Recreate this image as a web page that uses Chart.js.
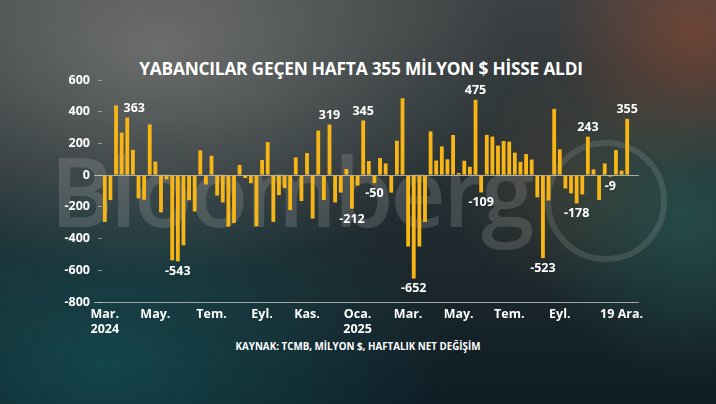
<!DOCTYPE html>
<html>
<head>
<meta charset="utf-8">
<script src="https://cdn.jsdelivr.net/npm/chart.js@4.4.1/dist/chart.umd.min.js"></script>
<style>
    html, body {
        margin: 0;
        padding: 0;
    }
    #wrap {
        position: relative;
        width: 716px;
        height: 404px;
        overflow: hidden;
        font-family: 'Open Sans', sans-serif;
        background:
            radial-gradient(ellipse at 22% 12%, rgba(150, 150, 145, 0.55), transparent 45%),
            radial-gradient(ellipse at 15% 90%, rgba(20, 85, 90, 0.7), transparent 40%),
            radial-gradient(circle at 97% 8%, rgba(190, 80, 40, 0.4), transparent 18%),
            radial-gradient(circle at 96% 55%, rgba(40, 110, 100, 0.45), transparent 22%),
            radial-gradient(circle at 80% 45%, rgba(160, 110, 60, 0.18), transparent 20%),
            linear-gradient(180deg, #3b4042 0%, #252f32 45%, #0e1c24 100%);
    }
    #watermark {
        position: absolute;
        left: 50px;
        top: 124px;
        font-size: 96px;
        font-weight: 600;
        letter-spacing: -3px;
        color: rgba(210, 210, 210, 0.18);
        white-space: nowrap;
    }
    #ring {
        position: absolute;
        left: 545px;
        top: 140px;
        width: 110px;
        height: 110px;
        border-radius: 50%;
        border: 6px solid rgba(200, 200, 200, 0.16);
    }
    #title {
        position: absolute;
        top: 57px;
        left: 3px;
        width: 716px;
        text-align: center;
        color: #fff;
        font-weight: 700;
        font-size: 17.3px;
        letter-spacing: -0.2px;
    }
    #source {
        position: absolute;
        top: 340px;
        width: 716px;
        text-align: center;
        color: #fff;
        font-weight: 700;
        font-size: 9.8px;
    }
    #chart {
        position: absolute;
        left: 0;
        top: 0;
    }
</style>
</head>
<body>
<div id="wrap">
    <div id="watermark">Bloomberg</div>
    <div id="ring"></div>
    <div id="title">YABANCILAR GEÇEN HAFTA 355 MİLYON $ HİSSE ALDI</div>
    <div id="source">KAYNAK: TCMB, MİLYON $, HAFTALIK NET DEĞİŞİM</div>
    <canvas id="chart" width="716" height="404"></canvas>
</div>
<script>
// haftalık net değişim, milyon $ (8 Mar 2024 - 19 Ara 2025)
const weeklyFlows = [
    -295, -157, 440, 268, 363, 160, -146, -155, 320, 85,
    -235, -27, -537, -543, -442, -158, -229, 156, -59, 122,
    -129, -172, -325, -302, 64, -18, -51, -322, 96, 208,
    -295, -126, -82, -220, 112, -163, 139, -274, 281, -157,
    319, -172, -110, 39, -212, -66, 345, 89, -50, 108,
    74, -110, 217, 485, -450, -652, -450, -295, 276, 92,
    181, 100, 253, 13, 91, 53, 475, -109, 254, 243,
    186, 215, 211, 142, 84, 133, 98, -140, -523, -160,
    418, 162, -84, -115, -178, -122, 243, 36, -157, 74,
    -9, 158, 28, 355
];

// x ekseni etiketleri (hafta sırası -> etiket)
const monthTicks = [
    [0, ['Mar.', '2024']],
    [9, 'May.'],
    [19, 'Tem.'],
    [28, 'Eyl.'],
    [36, 'Kas.'],
    [45, ['Oca.', '2025']],
    [54, 'Mar.'],
    [63, 'May.'],
    [72, 'Tem.'],
    [81, 'Eyl.'],
    [92, '19 Ara.']
];

// üzerinde değer yazan haftalar
const labelledWeeks = [4, 13, 40, 44, 46, 48, 55, 66, 67, 78, 84, 86, 90, 93];

const yTicks = [600, 400, 200, 0, -200, -400, -600, -800];

const labels = weeklyFlows.map(() => '');
monthTicks.forEach(([i, text]) => { labels[i] = text; });

const barColor = '#f8b616';
const lineColor = 'rgba(205, 205, 205, 0.75)';

// sıfır çizgisi, alt eksen çizgisi ve değer etiketleri
const annotate = {
    id: 'annotate',
    beforeDatasetsDraw(chart) {
        const { ctx, chartArea, scales } = chart;
        ctx.save();
        ctx.strokeStyle = lineColor;
        ctx.lineWidth = 1;
        [0, yTicks[yTicks.length - 1]].forEach(v => {
            const y = Math.round(scales.y.getPixelForValue(v)) + 0.5;
            ctx.beginPath();
            ctx.moveTo(chartArea.left - 8, y);
            ctx.lineTo(chartArea.right + 9, y);
            ctx.stroke();
        });
        ctx.restore();
    },
    afterDatasetsDraw(chart) {
        const { ctx } = chart;
        const meta = chart.getDatasetMeta(0);
        ctx.save();
        ctx.fillStyle = '#ffffff';
        ctx.font = "bold 12.5px 'Open Sans'";
        ctx.textAlign = 'center';
        labelledWeeks.forEach(i => {
            const bar = meta.data[i];
            const v = weeklyFlows[i];
            if (v >= 0) {
                // solda daha yüksek bir çubuk varsa etiketi biraz sağa kaydır
                let x = bar.x;
                if (i >= 2 && weeklyFlows[i - 2] > v + 40) {
                    x += 7;
                }
                ctx.textBaseline = 'bottom';
                ctx.fillText(String(v), x, bar.y - 3);
            } else {
                ctx.textBaseline = 'top';
                ctx.fillText(String(v), bar.x, bar.y + 4);
            }
        });
        ctx.restore();
    }
};

const ctx = document.getElementById('chart').getContext('2d');

const chart = new Chart(ctx, {
    type: 'bar',
    data: {
        labels: labels,
        datasets: [{
            data: weeklyFlows,
            backgroundColor: barColor,
            borderWidth: 0,
            barPercentage: 0.68,
            categoryPercentage: 1
        }]
    },
    options: {
        responsive: false,
        animation: false,
        layout: {
            padding: { top: 80, right: 86, bottom: 70, left: 0 }
        },
        plugins: {
            legend: { display: false },
            tooltip: { enabled: false }
        },
        scales: {
            x: {
                offset: true,
                grid: { display: false },
                border: { display: false },
                ticks: {
                    autoSkip: false,
                    maxRotation: 0,
                    minRotation: 0,
                    padding: -3,
                    color: '#ffffff',
                    font: { family: 'Open Sans', weight: 'bold', size: 12.5, lineHeight: 1.2 }
                }
            },
            y: {
                min: -800,
                max: 600,
                afterFit(scale) {
                    scale.width = 102;
                },
                afterBuildTicks(scale) {
                    scale.ticks = yTicks.map(v => ({ value: v }));
                },
                grid: {
                    drawOnChartArea: false,
                    drawTicks: true,
                    tickLength: 4,
                    color: 'rgba(190, 190, 190, 0.7)'
                },
                border: { display: false },
                ticks: {
                    padding: 8,
                    color: '#ffffff',
                    font: { family: 'Open Sans', weight: 'bold', size: 12.5 }
                }
            }
        }
    },
    plugins: [annotate]
});
</script>
</body>
</html>
